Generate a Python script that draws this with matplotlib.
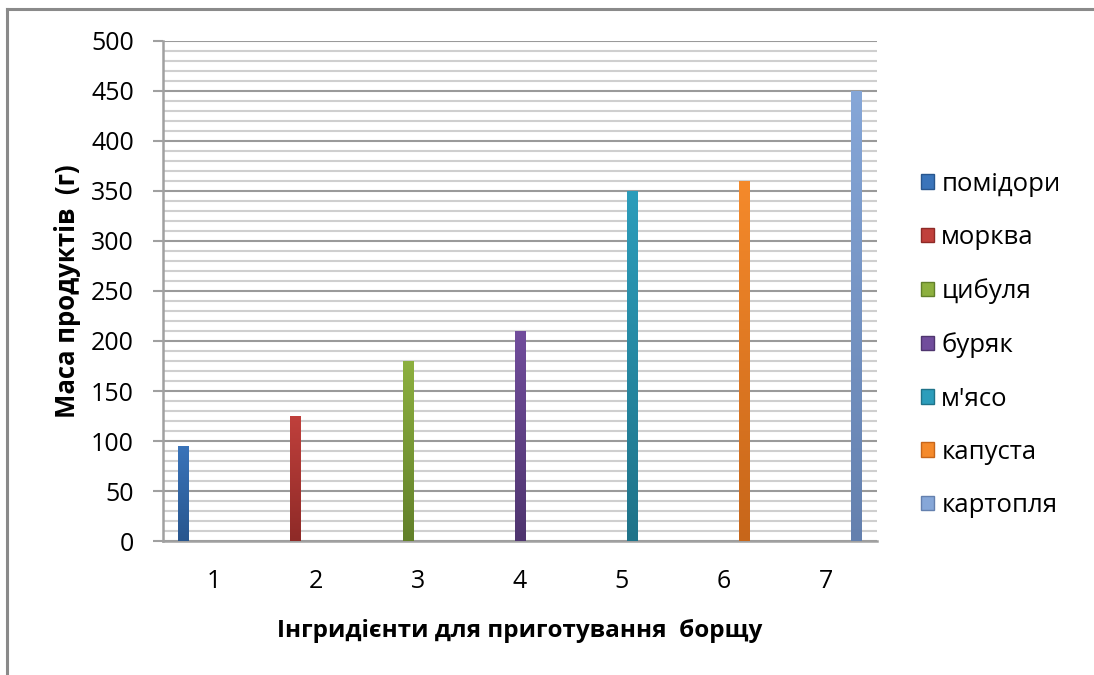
import numpy as np
import matplotlib
matplotlib.use('Agg')
import matplotlib.pyplot as plt
from matplotlib.colors import LinearSegmentedColormap
from matplotlib.lines import Line2D
from matplotlib.patches import Patch

# Data
categories = [1, 2, 3, 4, 5, 6, 7]
ingredients = ['помідори', 'морква', 'цибуля', 'буряк', "м'ясо", 'капуста', 'картопля']
masses = [95, 125, 180, 210, 350, 360, 450]

# Excel-like gradient colours (top, bottom)
top_colors = ['#3A74BA', '#C0403C', '#8DB03F', '#714D9C', '#2C9DBB', '#F58A2B', '#86A7D8']
bottom_colors = ['#28568E', '#8E2A27', '#62802A', '#4F356F', '#1F7389', '#C7661A', '#6480AE']

plt.rcParams['font.family'] = ['Open Sans', 'DejaVu Sans']

fig = plt.figure(figsize=(10.94, 6.75), dpi=100)
ax = fig.add_axes([0.149, 0.1985, 0.6526, 0.7408])

x = np.arange(len(categories))
n = len(ingredients)
bar_w = 0.1

for k, name in enumerate(ingredients):
    vals = np.where(x == k, masses[k], 0)
    bars = ax.bar(x + (k - (n - 1) / 2) * bar_w, vals, width=bar_w,
                  color=top_colors[k], edgecolor='none', zorder=3)
    cmap = LinearSegmentedColormap.from_list('g%d' % k, [bottom_colors[k], top_colors[k]])
    for b in bars:
        h = b.get_height()
        if h <= 0:
            continue
        x0 = b.get_x()
        w = b.get_width()
        grad = np.linspace(0, 1, 256).reshape(-1, 1)
        im = ax.imshow(grad, extent=[x0, x0 + w, 0, h], origin='lower',
                       cmap=cmap, aspect='auto', zorder=4)
        im.set_clip_path(b)

ax.set_xlim(-0.5, n - 0.5)
ax.set_ylim(0, 500)
ax.set_xticks(x)
ax.set_xticklabels([str(c) for c in categories], fontsize=18)
ax.set_yticks(np.arange(0, 501, 50))
ax.set_yticks(np.arange(0, 501, 10), minor=True)
ax.tick_params(axis='y', which='major', length=7, width=1.5, color='#a0a0a0',
               labelsize=18, pad=14)
ax.tick_params(axis='y', which='minor', length=0)
ax.tick_params(axis='x', length=0, pad=20)

ax.grid(axis='y', which='major', color='#9a9a9a', linewidth=1.5, zorder=1)
ax.grid(axis='y', which='minor', color='#cfcfcf', linewidth=1.5, zorder=1)
ax.set_axisbelow(True)

for side in ['top', 'right']:
    ax.spines[side].set_visible(False)
for side in ['left', 'bottom']:
    ax.spines[side].set_color('#a0a0a0')
    ax.spines[side].set_linewidth(1.8)

ax.set_xlabel('Інгридієнти для приготування  борщу', fontsize=17.5,
              fontweight='bold', labelpad=18)
ax.set_ylabel('Маса продуктів  (г)', fontsize=18.5, fontweight='bold', labelpad=7)

handles = [Patch(facecolor=top_colors[k], edgecolor=bottom_colors[k]) for k in range(n)]
fig.legend(handles, ingredients, loc='center left', bbox_to_anchor=(0.821, 0.489),
           frameon=False, fontsize=18.5, handlelength=0.5, handleheight=0.5,
           handletextpad=0.28, labelspacing=1.1)

# chart frame (left and top edges visible)
fig.add_artist(Line2D([0.0068, 0.0068], [0, 0.987], transform=fig.transFigure,
                      color='#8a8a8a', linewidth=2.2))
fig.add_artist(Line2D([0.0068, 1.0], [0.987, 0.987], transform=fig.transFigure,
                      color='#8a8a8a', linewidth=2.2))

plt.savefig('out.png', dpi=100)
